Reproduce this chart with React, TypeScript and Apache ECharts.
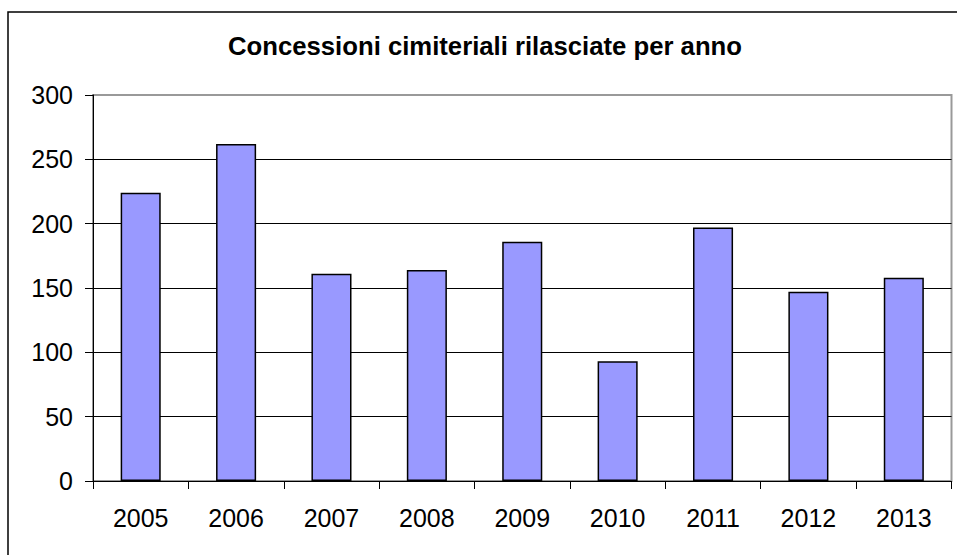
import React, { useEffect, useRef } from "react";
import * as echarts from "echarts";

const titleText = "Concessioni cimiteriali rilasciate per anno";
const years = ["2005", "2006", "2007", "2008", "2009", "2010", "2011", "2012", "2013"];
const concessions = [224, 262, 161, 164, 186, 93, 197, 147, 158];
const yTicks = { min: 0, max: 300, interval: 50 };

const FONT = '"Liberation Sans", Arial, sans-serif';

export default function App() {
  const ref = useRef<HTMLDivElement>(null);
  useEffect(() => {
    document.body.style.margin = "0";
    const chart = echarts.init(ref.current!, null, { renderer: "svg" });
    chart.setOption({
      animation: false,
      backgroundColor: "#ffffff",
      grid: {
        left: 93,
        right: 5.5,
        top: 95,
        bottom: 74,
        show: true,
        borderColor: "#999999",
        borderWidth: 2,
        backgroundColor: "#ffffff",
      },
      graphic: [
        {
          type: "rect",
          shape: { x: 8, y: 12, width: 1000, height: 600 },
          style: { fill: "none", stroke: "#000", lineWidth: 1.5 },
          silent: true,
          z: 0,
        },
        {
          type: "text",
          x: 485,
          y: 46,
          style: {
            text: titleText,
            textAlign: "center",
            textVerticalAlign: "middle",
            font: `bold 25.7px ${FONT}`,
            fill: "#000",
          },
          z: 10,
        },
      ],
      xAxis: {
        type: "category",
        data: years,
        axisLine: { show: true, lineStyle: { color: "#000", width: 1 } },
        axisTick: { show: true, length: 8, lineStyle: { color: "#000" } },
        axisLabel: { color: "#000", fontSize: 25, fontFamily: FONT, margin: 24 },
        splitLine: { show: false },
      },
      yAxis: {
        type: "value",
        min: yTicks.min,
        max: yTicks.max,
        interval: yTicks.interval,
        axisLine: { show: true, lineStyle: { color: "#000", width: 1 } },
        axisTick: { show: true, length: 8, lineStyle: { color: "#000" } },
        axisLabel: { color: "#000", fontSize: 25, fontFamily: FONT, margin: 20 },
        splitLine: { show: true, showMaxLine: false, showMinLine: false, lineStyle: { color: "#000", width: 1 } },
      },
      series: [
        {
          type: "bar",
          data: concessions,
          barCategoryGap: "58%",
          itemStyle: { color: "#9999ff", borderColor: "#000", borderWidth: 1.5 },
        },
      ],
    });
    return () => chart.dispose();
  }, []);
  return <div ref={ref} style={{ width: 957, height: 555 }} />;
}
